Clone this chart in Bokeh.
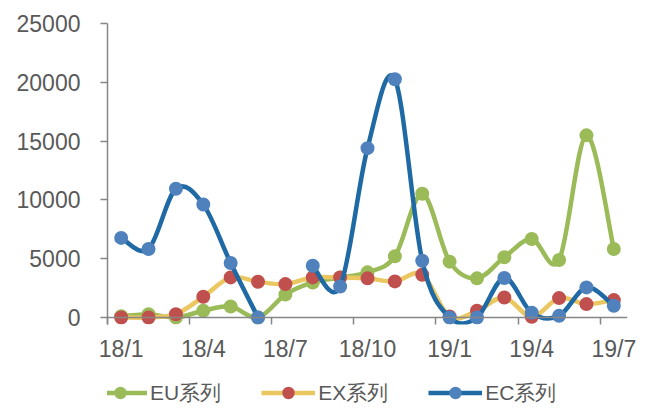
from bokeh.plotting import figure
from bokeh.layouts import column
from bokeh.models import FixedTicker, Legend, LegendItem, Range1d, ColumnDataSource, Span
from bokeh.embed import file_html
from bokeh.resources import INLINE

months = ["18/1", "18/2", "18/3", "18/4", "18/5", "18/6", "18/7", "18/8", "18/9", "18/10",
          "18/11", "18/12", "19/1", "19/2", "19/3", "19/4", "19/5", "19/6", "19/7"]
eu = [100, 280, 0, 570, 940, 0, 1950, 2980, 3400, 3840, 5200, 10520, 4750, 3330, 5120, 6680, 4890, 15490, 5830]
ex = [0, 0, 280, 1760, 3410, 3040, 2840, 3410, 3410, 3330, 3070, 3640, 80, 570, 1700, 60, 1650, 1140, 1480]
ec = [6770, 5830, 10950, 9610, 4640, 0, None, 4400, 2640, 14400, 20260, 4830, 0, 0, 3360, 400, 140, 2560, 1000]
tick_labels = ["18/1", "18/4", "18/7", "18/10", "19/1", "19/4", "19/7"]
y_ticks = [0, 5000, 10000, 15000, 20000, 25000]

FONT = "Liberation Sans"
TXT = "#595959"
AX = "#868686"

y_start = -25000 * 7 / 294
p = figure(width=651, height=370, frame_width=520, frame_height=301, output_backend="svg",
           toolbar_location=None,
           x_range=Range1d(-0.5, len(months) - 0.5), y_range=Range1d(y_start, 25000),
           min_border_left=107, min_border_right=24, min_border_top=23, min_border_bottom=46)
p.outline_line_color = None
p.grid.visible = False

# x axis: baseline drawn at y=0, ticks between categories reaching down to frame bottom
xa = p.xaxis[0]
label_pos = [months.index(t) for t in tick_labels]
xa.ticker = FixedTicker(ticks=label_pos, minor_ticks=[i - 0.5 for i in label_pos])
xa.major_label_overrides = {i: t for i, t in zip(label_pos, tick_labels)}
xa.major_tick_line_color = None
xa.major_tick_out = 0
xa.major_tick_in = 0
xa.minor_tick_out = 0
xa.minor_tick_in = 7
xa.minor_tick_line_color = AX
xa.minor_tick_line_width = 1.5
xa.axis_line_color = None
xa.major_label_standoff = 11
for ax in p.axis:
    ax.major_label_text_font = FONT
    ax.major_label_text_font_size = "23px"
    ax.major_label_text_color = TXT
    ax.axis_line_width = 1.5
ya = p.yaxis[0]
ya.ticker = FixedTicker(ticks=y_ticks, minor_ticks=[])
ya.axis_line_color = AX
ya.major_tick_line_color = AX
ya.major_tick_line_width = 1.5
ya.major_tick_out = 7
ya.major_tick_in = 0
ya.major_label_standoff = 20

p.add_layout(Span(location=0, dimension="width", line_color=AX, line_width=1.5))


def bez(vals):
    segs = []
    run = []
    for i, v in enumerate(vals):
        if v is None:
            if run:
                segs.append(run)
            run = []
        else:
            run.append((i, v))
    if run:
        segs.append(run)
    d = dict(x0=[], y0=[], x1=[], y1=[], cx0=[], cy0=[], cx1=[], cy1=[])
    for pts in segs:
        n = len(pts)
        for k in range(n - 1):
            a = pts[max(k - 1, 0)]
            b = pts[k]
            c = pts[k + 1]
            e = pts[min(k + 2, n - 1)]
            d["x0"].append(b[0]); d["y0"].append(b[1])
            d["x1"].append(c[0]); d["y1"].append(c[1])
            d["cx0"].append(b[0] + (c[0] - a[0]) / 6); d["cy0"].append(b[1] + (c[1] - a[1]) / 6)
            d["cx1"].append(c[0] - (e[0] - b[0]) / 6); d["cy1"].append(c[1] - (e[1] - b[1]) / 6)
    return ColumnDataSource(d)


series = [("EU系列", eu, "#9BBB59", "#9BBB59"),
          ("EX系列", ex, "#EBC762", "#C0504D"),
          ("EC系列", ec, "#1F69A4", "#4F81BD")]

# legend strip below the chart (its renderers sit outside its visible range)
pl = figure(width=651, height=42, output_backend="svg", toolbar_location=None,
            x_axis_location=None, y_axis_location=None,
            x_range=Range1d(0, 1), y_range=Range1d(0, 1),
            min_border_left=0, min_border_right=0, min_border_top=0, min_border_bottom=0)
pl.outline_line_color = None
pl.grid.visible = False

items = []
for name, vals, lc, mc in series:
    p.bezier(x0="x0", y0="y0", x1="x1", y1="y1", cx0="cx0", cy0="cy0", cx1="cx1", cy1="cy1",
             source=bez(vals), line_color=lc, line_width=4.5, line_cap="round")
    xs = [i for i, v in enumerate(vals) if v is not None]
    ys = [v for v in vals if v is not None]
    p.scatter(xs, ys, size=14, fill_color=mc, line_color=None)
    kl = pl.line([-5, -4], [-5, -5], line_color=lc, line_width=4.5)
    km = pl.scatter([-5], [-5], size=14, fill_color=mc, line_color=None)
    items.append(LegendItem(label=name, renderers=[kl, km]))

legend = Legend(items=items, orientation="horizontal", location=(-14, 4),
                glyph_width=54, glyph_height=31, label_standoff=3, spacing=40,
                padding=0, margin=0, border_line_color=None, background_fill_alpha=0,
                label_text_font=FONT, label_text_font_size="21px", label_text_color=TXT)
pl.add_layout(legend)

open("out.html", "w").write(file_html(column(p, pl, spacing=0), INLINE))
